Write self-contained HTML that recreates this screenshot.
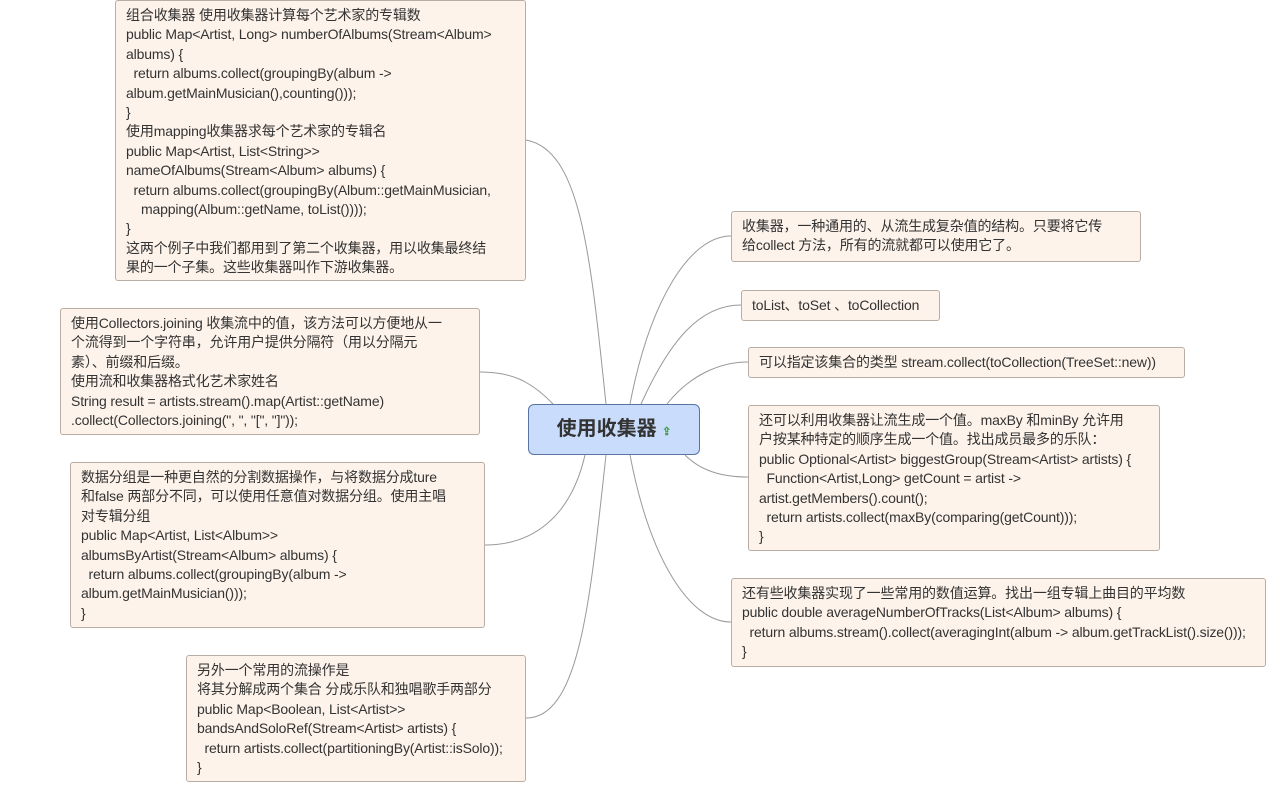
<!DOCTYPE html>
<html><head><meta charset="utf-8"><style>
body{margin:0;width:1287px;height:802px;background:#fff;position:relative;overflow:hidden;font-family:"Liberation Sans","Noto Sans CJK SC",sans-serif;}
.b{position:absolute;box-sizing:border-box;background:#fdf3ea;border:1px solid #b9ada3;border-radius:3px;color:#333;font-size:14px;line-height:19.4px;padding:5px 10px;white-space:pre;letter-spacing:-0.15px;overflow:hidden}
.b .z{letter-spacing:0.6px}
svg{position:absolute;left:0;top:0}
.c{position:absolute;left:528px;top:404px;width:172px;height:51px;box-sizing:border-box;background:#c9dcfb;border:1px solid #5a73a5;border-radius:6px;font-size:20px;color:#333;line-height:49px;text-align:center;font-weight:bold;}
</style></head><body>
<svg width="1287" height="802" fill="none" stroke="#999" stroke-width="1">
<path d="M606 404 C590 250 580 150 526 140"/>
<path d="M553 404 C530 380 510 372 480 372"/>
<path d="M585 455 C570 520 530 545 485 545"/>
<path d="M606 455 C590 600 580 718 526 718"/>
<path d="M630 404 C650 300 690 236 731 236"/>
<path d="M641 404 C670 340 700 305 741 305"/>
<path d="M667 404 C690 375 720 362 748 362"/>
<path d="M685 455 C700 470 720 477 748 477"/>
<path d="M630 455 C650 560 690 622 731 622"/>
</svg>
<div class="b" style="left:115px;top:0;width:411px;height:281px">组合收集器 使用收集器计算每个艺术家的专辑数
public Map&lt;Artist, Long&gt; numberOfAlbums(Stream&lt;Album&gt;
albums) {
  return albums.collect(groupingBy(album -&gt;
album.getMainMusician(),counting()));
}
使用mapping收集器求每个艺术家的专辑名
public Map&lt;Artist, List&lt;String&gt;&gt;
nameOfAlbums(Stream&lt;Album&gt; albums) {
  return albums.collect(groupingBy(Album::getMainMusician,
    mapping(Album::getName, toList())));
}
这两个例子中我们都用到了第二个收集器，用以收集最终结
果的一个子集。这些收集器叫作下游收集器。</div>
<div class="b" style="left:60px;top:308px;width:420px;height:127px">使用Collectors.joining 收集流中的值，该方法可以方便地从一
个流得到一个字符串，允许用户提供分隔符（用以分隔元
素）、前缀和后缀。
使用流和收集器格式化艺术家姓名
String result = artists.stream().map(Artist::getName)
.collect(Collectors.joining(", ", "[", "]"));</div>
<div class="b" style="left:70px;top:462px;width:415px;height:166px">数据分组是一种更自然的分割数据操作，与将数据分成ture
和false 两部分不同，可以使用任意值对数据分组。使用主唱
对专辑分组
public Map&lt;Artist, List&lt;Album&gt;&gt;
albumsByArtist(Stream&lt;Album&gt; albums) {
  return albums.collect(groupingBy(album -&gt;
album.getMainMusician()));
}</div>
<div class="b" style="left:186px;top:655px;width:340px;height:127px">另外一个常用的流操作是
将其分解成两个集合 分成乐队和独唱歌手两部分
public Map&lt;Boolean, List&lt;Artist&gt;&gt;
bandsAndSoloRef(Stream&lt;Artist&gt; artists) {
  return artists.collect(partitioningBy(Artist::isSolo));
}</div>
<div class="b" style="left:731px;top:211px;width:410px;height:51px">收集器，一种通用的、从流生成复杂值的结构。只要将它传
给collect 方法，所有的流就都可以使用它了。</div>
<div class="b" style="left:741px;top:290px;width:199px;height:31px">toList、toSet 、toCollection</div>
<div class="b" style="left:748px;top:347px;width:437px;height:31px">可以指定该集合的类型 stream.collect(toCollection(TreeSet::new))</div>
<div class="b" style="left:748px;top:405px;width:412px;height:146px">还可以利用收集器让流生成一个值。maxBy 和minBy 允许用
户按某种特定的顺序生成一个值。找出成员最多的乐队：
public Optional&lt;Artist&gt; biggestGroup(Stream&lt;Artist&gt; artists) {
  Function&lt;Artist,Long&gt; getCount = artist -&gt;
artist.getMembers().count();
  return artists.collect(maxBy(comparing(getCount)));
}</div>
<div class="b" style="left:731px;top:578px;width:535px;height:89px">还有些收集器实现了一些常用的数值运算。找出一组专辑上曲目的平均数
public double averageNumberOfTracks(List&lt;Album&gt; albums) {
  return albums.stream().collect(averagingInt(album -&gt; album.getTrackList().size()));
}</div>
<div class="c">使用收集器 <span style="font-size:11px;color:#3a9a3a">⇪</span></div>
</body></html>
